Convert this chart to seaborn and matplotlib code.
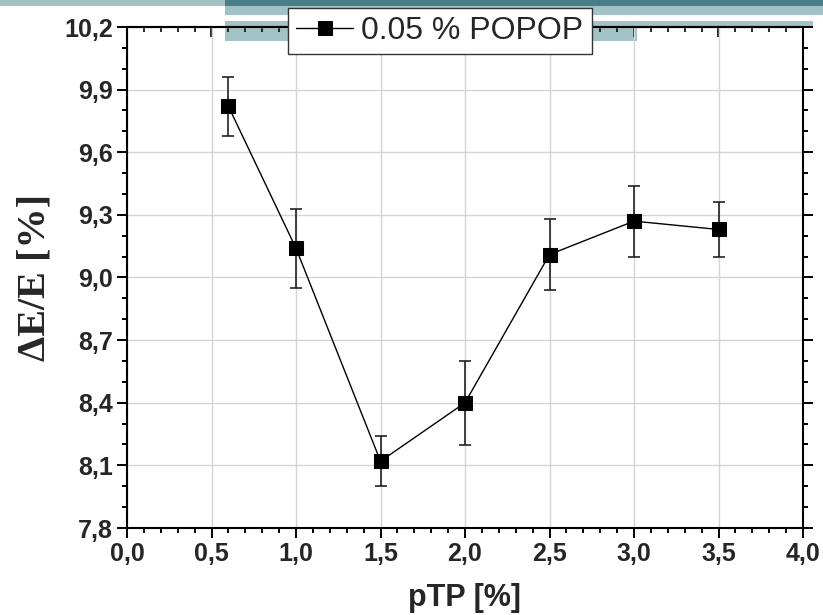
import numpy as np
import pandas as pd
import matplotlib
matplotlib.use("Agg")
import matplotlib.pyplot as plt
import seaborn as sns
from matplotlib.patches import Rectangle
from matplotlib.ticker import MultipleLocator, FixedLocator

# ---- data ----
ptp = [0.6, 1.0, 1.5, 2.0, 2.5, 3.0, 3.5]
resolution = [9.82, 9.14, 8.12, 8.40, 9.11, 9.27, 9.23]
err_low = [9.68, 8.95, 8.00, 8.20, 8.94, 9.10, 9.10]
err_high = [9.96, 9.33, 8.24, 8.60, 9.28, 9.44, 9.36]
series_label = "0.05 % POPOP"

x_ticks = [0.0, 0.5, 1.0, 1.5, 2.0, 2.5, 3.0, 3.5, 4.0]
x_ticklabels = ["0,0", "0,5", "1,0", "1,5", "2,0", "2,5", "3,0", "3,5", "4,0"]
y_ticks = [7.8, 8.1, 8.4, 8.7, 9.0, 9.3, 9.6, 9.9, 10.2]
y_ticklabels = ["7,8", "8,1", "8,4", "8,7", "9,0", "9,3", "9,6", "9,9", "10,2"]

df = pd.DataFrame({"pTP": ptp, "dE": resolution})

sns.set_theme(style="white")
plt.rcParams["font.family"] = ["Liberation Sans", "DejaVu Sans"]

W, H = 823, 615
fig = plt.figure(figsize=(W / 100, H / 100), dpi=100, facecolor="white")

# decorative slide bars (figure pixel coordinates)
dark = "#467d86"
light = "#a3c2c5"
def band(x0, y0, x1, y1, c):
    fig.add_artist(Rectangle((x0 / W, 1 - y1 / H), (x1 - x0) / W, (y1 - y0) / H,
                             transform=fig.transFigure, facecolor=c,
                             edgecolor="none", zorder=0))
band(0, 0, 225, 6, light)
band(225, 0, W, 6, dark)
band(225, 6, W, 15, light)
band(225, 21, W - 10, 28, light)
band(225, 28, 637, 41, light)

ax = fig.add_axes([127 / W, 1 - 528 / H, (803 - 127) / W, (528 - 27) / H])
ax.set_facecolor("none")
ax.set_zorder(2)

lo = np.array(resolution) - np.array(err_low)
hi = np.array(err_high) - np.array(resolution)
ax.errorbar(ptp, resolution, yerr=[lo, hi], fmt="none", ecolor="#222222",
            elinewidth=1.2, capsize=4.5, capthick=1.2, zorder=3)
sns.lineplot(data=df, x="pTP", y="dE", ax=ax, color="black", linewidth=1.0,
             marker="s", markersize=10, markeredgecolor="black",
             markerfacecolor="black", label=series_label, zorder=4)

ax.set_xlim(0, 4)
ax.set_ylim(7.8, 10.2)
ax.xaxis.set_major_locator(FixedLocator(x_ticks))
ax.set_xticklabels(x_ticklabels)
ax.xaxis.set_minor_locator(MultipleLocator(0.1))
ax.yaxis.set_major_locator(FixedLocator(y_ticks))
ax.set_yticklabels(y_ticklabels)
ax.yaxis.set_minor_locator(MultipleLocator(0.1))

ax.grid(True, which="major", color="#d4d4d4", linewidth=1.0)
ax.set_axisbelow(True)
for s in ax.spines.values():
    s.set_visible(True)
    s.set_color("black")
    s.set_linewidth(1.5)

ax.tick_params(axis="both", which="major", direction="out", length=7, width=1.4,
               color="black", labelsize=18, pad=3)
ax.tick_params(axis="both", which="minor", direction="out", length=3.8, width=1.4,
               color="black")
ax.tick_params(axis="y", which="both", left=True, right=True)
ax.tick_params(axis="x", which="both", bottom=True, top=False)
for lab in ax.get_xticklabels() + ax.get_yticklabels():
    lab.set_fontweight("bold")

# top axis with inward ticks
top = ax.secondary_xaxis("top")
top.xaxis.set_major_locator(FixedLocator(x_ticks))
top.xaxis.set_minor_locator(MultipleLocator(0.1))
top.tick_params(which="major", direction="in", length=7, width=1.4, labeltop=False)
top.tick_params(which="minor", direction="in", length=3.8, width=1.4)
top.spines["top"].set_linewidth(1.5)

ax.set_xlabel("pTP [%]", fontsize=22, fontweight="bold", labelpad=12)
ax.set_ylabel("ΔE/E [%]", fontsize=29, fontweight="bold",
              family=["Liberation Serif", "DejaVu Serif"], labelpad=8)

leg = ax.legend(loc="upper left", bbox_to_anchor=(288 / W, 1 - 8 / H),
                bbox_transform=fig.transFigure, borderaxespad=0, frameon=True,
                fancybox=False, fontsize=23, handlelength=1.8, handletextpad=0.25,
                borderpad=0.25, framealpha=1)
leg.get_frame().set_edgecolor("#333333")
leg.get_frame().set_linewidth(1.0)
leg.set_zorder(10)

fig.savefig("out.png", dpi=100, facecolor="white")
